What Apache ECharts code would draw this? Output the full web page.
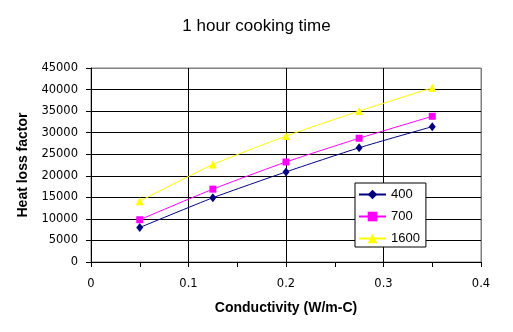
<!DOCTYPE html>
<html><head><meta charset="utf-8">
<script src="https://cdn.jsdelivr.net/npm/echarts@6/dist/echarts.min.js"></script>
<style>html,body{margin:0;padding:0;background:#fff}#c{width:513px;height:332px}</style>
</head><body><div id="c"></div>
<script>
var conductivity = [0.05, 0.125, 0.2, 0.275, 0.35];
var s400 = [8000, 14900, 20900, 26500, 31400];
var s700 = [9800, 16900, 23200, 28700, 33800];
var s1600 = [14100, 22600, 29200, 35000, 40400];
var seriesNames = ['400', '700', '1600'];
var xTicks = [0, 0.1, 0.2, 0.3, 0.4];

function pairs(v){ return conductivity.map(function(x,i){ return [x, v[i]]; }); }
var F = 'Liberation Sans, Arial, sans-serif';
var FT = 'DejaVu Sans, sans-serif';
var ySplitColors = ['#000','#000','#000','#000','#000','#000','#000','#000','#000','#808080'];
var xSplitColors = ['#000','#000','#000','#000','#808080'];
var chart = echarts.init(document.getElementById('c'));
chart.setOption({
  animation: false,
  backgroundColor: '#fff',
  title: { text: '1 hour cooking time', left: 'center', top: 13,
    textStyle: { fontFamily: F, fontSize: 17, fontWeight: 'normal', color: '#000' } },
  grid: { left: 91, right: 32, top: 68, bottom: 70, show: true, borderColor: '#808080', borderWidth: 1 },
  xAxis: { type: 'value', min: 0, max: 0.4, interval: 0.1,
    name: 'Conductivity (W/m-C)', nameLocation: 'middle', nameGap: 39,
    nameTextStyle: { fontFamily: F, fontSize: 14, fontWeight: 'bold', color: '#000' },
    axisLine: { lineStyle: { color: '#000', width: 1 } },
    axisTick: { lineStyle: { color: '#000' }, length: 5, inside: false },
    minorTick: { show: true, splitNumber: 2, length: 5, lineStyle: { color: '#000' } },
    splitLine: { show: true, lineStyle: { color: xSplitColors, width: 1 } },
    axisLabel: { fontFamily: FT, fontSize: 11.5, color: '#000', margin: 16,
      formatter: function(v){ var r = Math.round(v*10)/10; return xTicks.indexOf(r) >= 0 ? String(r) : ''; } } },
  yAxis: { type: 'value', min: 0, max: 45000, interval: 5000,
    name: 'Heat loss factor', nameLocation: 'middle', nameGap: 56, nameRotate: 90,
    nameTextStyle: { fontFamily: F, fontSize: 14, fontWeight: 'bold', color: '#000' },
    axisLine: { show: true, lineStyle: { color: '#000', width: 1 } },
    axisTick: { show: true, length: 5, lineStyle: { color: '#000' } },
    splitLine: { show: true, lineStyle: { color: ySplitColors, width: 1 } },
    axisLabel: { fontFamily: FT, fontSize: 11.5, color: '#000', margin: 13,
      formatter: function(v){ return String(v); } } },
  legend: { orient: 'vertical', left: 355, top: 183,
    backgroundColor: '#fff', borderColor: '#000', borderWidth: 1, padding: [5, 6, 2, 3],
    itemWidth: 27, itemHeight: 12, itemGap: 9,
    textStyle: { fontFamily: F, fontSize: 13, color: '#000' },
    data: seriesNames },
  series: [
    { name: seriesNames[0], type: 'line', data: pairs(s400), smooth: 0.2,
      symbol: 'diamond', symbolSize: [7, 9], color: '#000080',
      lineStyle: { color: '#000080', width: 1 }, itemStyle: { color: '#000080' } },
    { name: seriesNames[1], type: 'line', data: pairs(s700), smooth: 0.2,
      symbol: 'rect', symbolSize: 7, color: '#FF00FF',
      lineStyle: { color: '#FF00FF', width: 1 }, itemStyle: { color: '#FF00FF' } },
    { name: seriesNames[2], type: 'line', data: pairs(s1600), smooth: 0.2,
      symbol: 'triangle', symbolSize: 8, color: '#FFFF00',
      lineStyle: { color: '#FFFF00', width: 1 }, itemStyle: { color: '#FFFF00' } }
  ]
});
</script></body></html>
